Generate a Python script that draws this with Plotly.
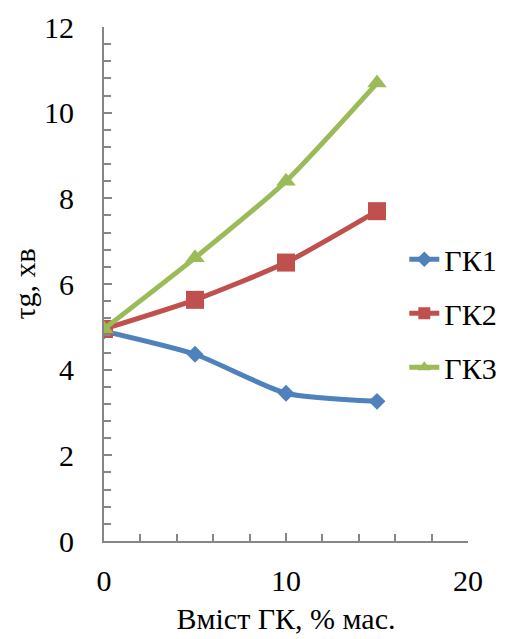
import plotly.graph_objects as go

x_vals = [0, 5, 10, 15]
gk1 = [4.90, 4.36, 3.45, 3.26]
gk2 = [4.95, 5.63, 6.50, 7.70]
gk3 = [4.95, 6.61, 8.40, 10.69]
names = ["ГК1", "ГК2", "ГК3"]
colors = ["#4F81BD", "#C0504D", "#9BBB59"]
symbols = ["diamond", "square", "triangle-up"]
msizes = [13, 18, 17]

FONT = "Liberation Serif"
FS = 30

fig = go.Figure()
for name, ys, c, s, ms in zip(names, [gk1, gk2, gk3], colors, symbols, msizes):
    fig.add_trace(go.Scatter(
        x=x_vals, y=ys, name=name, legendgroup=name, mode="lines+markers",
        line=dict(color=c, width=5, shape="spline", smoothing=0.6),
        marker=dict(symbol=s, size=ms, color=c),
    ))

axis_common = dict(
    showline=True, linecolor="#868686", linewidth=2,
    showgrid=False, zeroline=False, automargin=False,
    ticks="inside", ticklen=8, tickwidth=1.5, tickcolor="#868686",
    tickfont=dict(family=FONT, size=FS, color="black"),
)
fig.update_xaxes(
    range=[0, 20], tick0=0, dtick=10, ticklabelstandoff=12,
    minor=dict(dtick=2, ticks="inside", ticklen=7, tickcolor="#868686", tickwidth=1.5),
    title=dict(text="Вміст ГК, % мас.", font=dict(family=FONT, size=FS, color="black"), standoff=12),
    **axis_common,
)
fig.update_yaxes(
    range=[0, 12], tick0=0, dtick=2, ticklabelstandoff=22,
    minor=dict(dtick=0.4, ticks="inside", ticklen=7, tickcolor="#868686", tickwidth=1.5),
    title=dict(text="τg, хв", font=dict(family=FONT, size=FS, color="black"), standoff=8),
    **axis_common,
)
fig.update_layout(
    width=509, height=631,
    margin=dict(l=96, r=49, t=19, b=98),
    plot_bgcolor="white", paper_bgcolor="white",
    font=dict(family=FONT),
    legend=dict(x=0.825, y=0.443, xanchor="left", yanchor="middle",
                font=dict(family=FONT, size=FS, color="black"),
                bgcolor="rgba(0,0,0,0)", tracegroupgap=12, itemsizing="constant"),
)
fig.write_html("out.html")
